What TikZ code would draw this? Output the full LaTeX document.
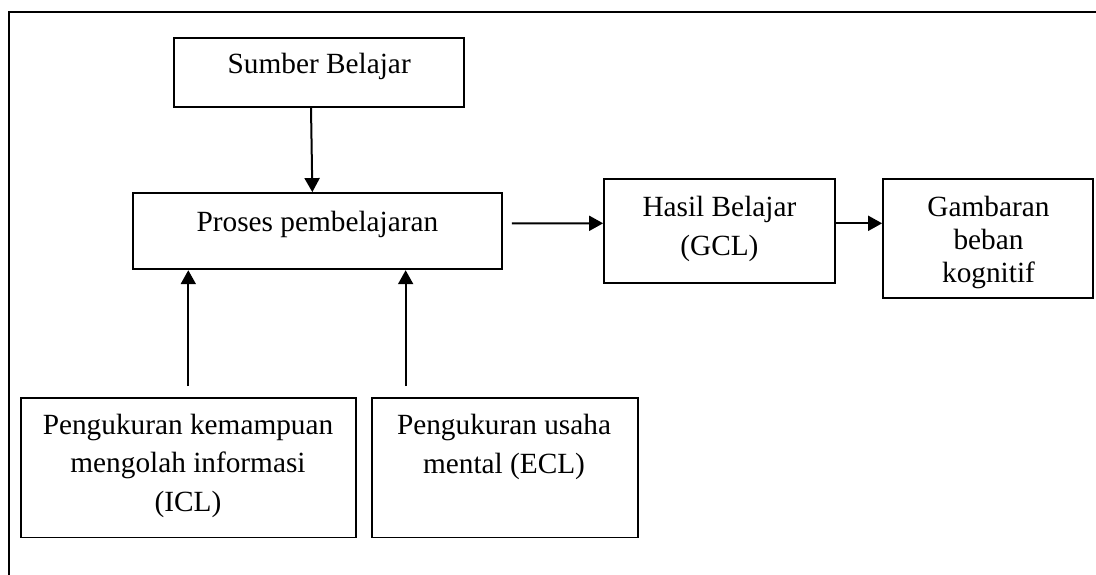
\documentclass[tikz,border=0pt]{standalone}
\usepackage{fontspec}
\setmainfont{Liberation Serif}
\usetikzlibrary{arrows.meta}
\tikzset{
  box/.style={draw=black, line width=1.8pt, rectangle, inner sep=0pt},
  arr/.style={draw=black, line width=2pt, -{Triangle[length=14pt,width=15pt]}},
  frame/.style={draw=black, line width=2pt},
  txt/.style={anchor=base, inner sep=0pt, font=\fontsize{29.3}{33}\selectfont}
}
\begin{document}
\begin{tikzpicture}[x=1pt,y=1pt]
\useasboundingbox (0,0) rectangle (1096,-575);
% partial outer frame
\coordinate (fc) at (9,-11.7);
\coordinate (fr) at (1096,-11.7);
\coordinate (fb) at (9,-575);
\draw[frame] (fr) -- (fc) -- (fb);
% boxes
\node[box, minimum width=289.7pt, minimum height=69pt] (sumber) at (319.2,-72.2) {};
\node[box, minimum width=369.3pt, minimum height=76.3pt] (proses) at (317.35,-231.15) {};
\node[box, minimum width=231pt, minimum height=103.4pt] (hasil) at (719.5,-231) {};
\node[box, minimum width=210pt, minimum height=118.7pt] (gamb) at (988,-238.65) {};
\node[box, minimum width=335pt, minimum height=139.8pt] (icl) at (188.5,-467.6) {};
\node[box, minimum width=265.7pt, minimum height=139.8pt] (ecl) at (504.85,-467.6) {};
% texts
\node[txt] (tsumber) at (319.2,-74) {Sumber Belajar};
\node[txt] (tproses) at (317.4,-232) {Proses pembelajaran};
\node[txt] (thasil) at (719.4,-216.7) {\renewcommand{\arraystretch}{1.176}\begin{tabular}[t]{@{}c@{}}Hasil Belajar\\(GCL)\end{tabular}};
\node[txt] (tgamb) at (988.5,-216.7) {\begin{tabular}[t]{@{}c@{}}Gambaran\\beban\\kognitif\end{tabular}};
\node[txt] (ticl) at (188,-434) {\renewcommand{\arraystretch}{1.18}\begin{tabular}[t]{@{}c@{}}Pengukuran kemampuan\\mengolah informasi\\(ICL)\end{tabular}};
\node[txt] (tecl) at (504,-434) {\renewcommand{\arraystretch}{1.19}\begin{tabular}[t]{@{}c@{}}Pengukuran usaha\\mental (ECL)\end{tabular}};
% connectors
\draw[arr] ([xshift=-8.2pt]sumber.south) -- ([xshift=-5pt]proses.north);
\draw[arr] ([shift={(9pt,7.8pt)}]proses.east) -- ([yshift=7.7pt]hasil.west);
\coordinate (h1) at ([yshift=7.7pt]hasil.east);
\draw[arr] (h1) -- (h1 -| gamb.west);
\coordinate (i1) at ([shift={(-0.2pt,10.7pt)}]icl.north);
\draw[arr] (i1) -- (i1 |- proses.south);
\coordinate (e1) at ([shift={(-99.2pt,10.7pt)}]ecl.north);
\draw[arr] (e1) -- (e1 |- proses.south);
\end{tikzpicture}
\end{document}
